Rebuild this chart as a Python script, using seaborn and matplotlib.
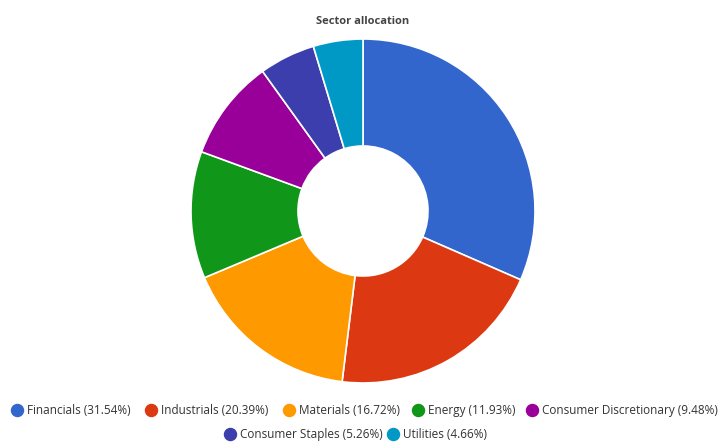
import matplotlib
matplotlib.use('Agg')
import matplotlib.pyplot as plt
import seaborn as sns

sectors = ['Financials', 'Industrials', 'Materials', 'Energy',
           'Consumer Discretionary', 'Consumer Staples', 'Utilities']
weights = [31.54, 20.39, 16.72, 11.93, 9.48, 5.26, 4.66]
colors = ['#3366cc', '#dc3912', '#ff9900', '#109618', '#990099', '#3b3eac', '#0099c6']

sns.set_style('white')
plt.rcParams['font.family'] = ['Open Sans', 'DejaVu Sans']

H = 444
fig = plt.figure(figsize=(7.2, 4.44), dpi=100)
ax = fig.add_axes([0, 0, 1, 1])

# pixel y measured from the top, converted to data y (up)
ax.pie(weights, colors=colors, startangle=90, counterclock=False,
       radius=172, center=(363, H - 211),
       wedgeprops=dict(width=107, edgecolor='white', linewidth=1.2))

ax.text(363, H - 22, 'Sector allocation', ha='center', va='center',
        fontsize=8, fontweight='bold', color='#444444')

labels = [f'{s} ({v:.2f}%)' for s, v in zip(sectors, weights)]
legend_pos = [(12, 410), (146, 410), (284, 410), (413, 410), (527, 410),
              (225, 434), (388, 434)]
for i, (x, y) in enumerate(legend_pos):
    ax.scatter([x + 5], [H - y], s=75, color=colors[i], zorder=3)
    ax.text(x + 15, H - y, labels[i], va='center', fontsize=8.5, color='#333333')

ax.set_xlim(0, 720)
ax.set_ylim(0, H)
ax.set_aspect('auto')
ax.axis('off')

fig.savefig('out.png', dpi=100)
